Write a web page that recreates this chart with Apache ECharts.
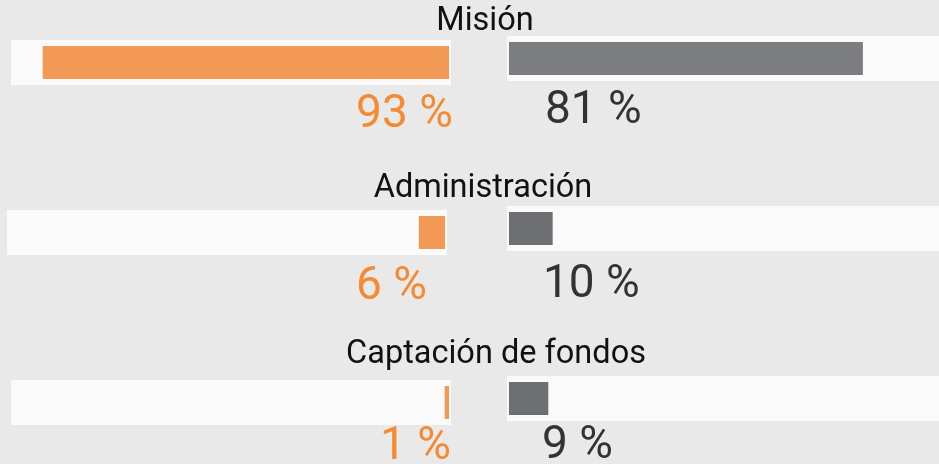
<!DOCTYPE html>
<html><head><meta charset="utf-8">
<script src="https://cdn.jsdelivr.net/npm/echarts@6/dist/echarts.min.js"></script>
<style>html,body{margin:0;padding:0;background:#e9e9e9}#c{width:939px;height:464px}</style>
</head><body><div id="c"></div>
<script>
// ---- data ----
const categories = ['Misión', 'Administración', 'Captación de fondos'];
const leftValues = [93, 6, 1];
const rightValues = [81, 10, 9];
const leftLabels = leftValues.map(v => v + ' %');
const rightLabels = rightValues.map(v => v + ' %');

// ---- layout / style (not data) ----
const leftGridX = [11, 7, 11];
const gridTops = [40, 210, 380];
const rightShiftY = -4;
const rightGridX = 507;
const gridW = 440, gridH = 45;
const titlePos = [[485, 22], [483, 189], [496, 355]];
const leftLabelOff = [[-93, 52.5], [-89, 54.5], [-69, 45]];
const rightLabelOff = [[36, 52.5], [34, 57], [33, 47.5]];
const orangeBar = '#f29a55';
const grayBars = ['#7b7d81', '#6d6f73', '#6d6f73'];
const orangeText = '#f58a32';
const grayText = '#333333';

const chart = echarts.init(document.getElementById('c'));
const grid = [], xAxis = [], yAxis = [], series = [];
categories.forEach((cat, g) => {
  grid.push({left: leftGridX[g], top: gridTops[g], width: gridW, height: gridH,
    outerBoundsMode: 'none', containLabel: false,
    show: true, backgroundColor: '#fafafa', borderWidth: 0});
  grid.push({left: rightGridX, top: gridTops[g] + rightShiftY, width: gridW, height: gridH,
    outerBoundsMode: 'none', containLabel: false,
    show: true, backgroundColor: '#fafafa', borderWidth: 0});
  [0, 1].forEach(side => {
    const i = 2 * g + side;
    xAxis.push({type: 'value', gridIndex: i, min: -0.45, max: 100.25, inverse: side === 0, show: false});
    yAxis.push({type: 'category', gridIndex: i, data: [cat], show: false});
    series.push({type: 'bar', xAxisIndex: i, yAxisIndex: i, barWidth: 33,
      data: [side === 0 ? leftValues[g] : rightValues[g]],
      itemStyle: {color: side === 0 ? orangeBar : grayBars[g]},
      silent: true});
  });
});
chart.setOption({backgroundColor: '#e9e9e9', animation: false, grid, xAxis, yAxis, series});

const graphic = [];
categories.forEach((cat, g) => {
  graphic.push({type: 'text', x: titlePos[g][0], y: titlePos[g][1],
    style: {text: cat, fontFamily: 'Roboto', fontSize: 32.5, fill: '#111111', align: 'center', verticalAlign: 'middle'}});
  const pl = chart.convertToPixel({xAxisIndex: 2 * g, yAxisIndex: 2 * g}, [0, 0]);
  graphic.push({type: 'text', x: pl[0] + leftLabelOff[g][0], y: pl[1] + leftLabelOff[g][1],
    style: {text: leftLabels[g], fontFamily: 'Roboto', fontSize: 46, fill: orangeText, align: 'left', verticalAlign: 'middle'}});
  const pr = chart.convertToPixel({xAxisIndex: 2 * g + 1, yAxisIndex: 2 * g + 1}, [0, 0]);
  graphic.push({type: 'text', x: pr[0] + rightLabelOff[g][0], y: pr[1] + rightLabelOff[g][1],
    style: {text: rightLabels[g], fontFamily: 'Roboto', fontSize: 46, fill: grayText, align: 'left', verticalAlign: 'middle'}});
});
chart.setOption({graphic});
</script></body></html>
